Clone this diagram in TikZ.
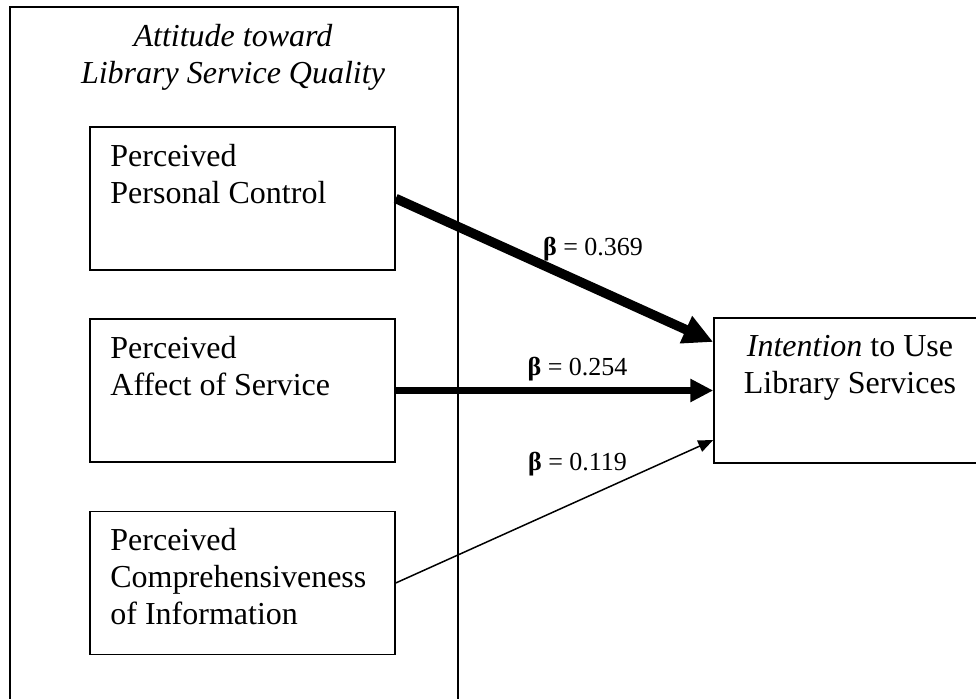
\documentclass[tikz,border=0pt]{standalone}
\usepackage{fontspec}
\setmainfont{Liberation Serif}
\usetikzlibrary{arrows.meta, positioning, calc}
\definecolor{ink}{HTML}{000000}
\tikzset{
  box/.style={
    draw=ink, line width=0.75pt, rectangle, inner sep=0pt,
    minimum width=152.5pt, minimum height=71.5pt,
  },
  frame/.style={box, minimum width=224pt, minimum height=356.5pt},
  outbox/.style={box, minimum width=138pt, minimum height=72.5pt},
  %
  % base = baseline of the last line
  txt/.style={font=\fontsize{16}{18.5}\selectfont, text=ink, inner sep=0pt,
              align=left, anchor=base west},
  ttl/.style={txt, font=\fontsize{16}{18.5}\selectfont\itshape, align=center,
              anchor=base},
  beta/.style={font=\fontsize{13}{15}\selectfont, text=ink, inner sep=0pt,
               anchor=base},
  %
  strong/.style={draw=ink, line width=4.75pt, -{Triangle[length=15pt, width=14pt]}},
  medium/.style={draw=ink, line width=3.5pt, -{Triangle[length=11.5pt, width=11pt]}},
  weak/.style={draw=ink, line width=0.75pt, -{Triangle[length=7.5pt, width=6pt]}},
}

\begin{document}
\begin{tikzpicture}[x=0.5pt, y=-0.5pt]
\useasboundingbox (0,0) rectangle (976,699);

% attitude block
\node[frame] (att) at (234,363.5) {};
\node[ttl] (attl) at (233,84) {Attitude toward\\Library Service Quality};

\node[box] (pc) at (242.5,198.5) {};
\node[box] (ae) at (242.5,390.5) {};
\node[box] (ci) at (242.5,583) {};
\node[txt] (pct) at (110,204) {Perceived\\Personal Control};
\node[txt] (aet) at (110,396) {Perceived\\Affect of Service};
\node[txt] (cit) at (110,625) {Perceived\\Comprehensiveness\\of Information};

% outcome
\node[outbox] (iu) at (852,390.5) {};
\node[txt, align=center, anchor=base] (iut) at (850,394)
  {\emph{Intention} to Use\\Library Services};

% paths
\draw[strong] (pc.east) -- ([yshift=24.25pt]iu.west);
\draw[medium] (ae.east) -- (iu.west);
\draw[weak] (ci.east) -- ([yshift=-24.75pt]iu.west);

\node[beta] (b1) at (593,256) {\textbf{β} = 0.369};
\node[beta] (b2) at (577.5,376) {\textbf{β} = 0.254};
\node[beta] (b3) at (577.5,471) {\textbf{β} = 0.119};

\end{tikzpicture}
\end{document}
